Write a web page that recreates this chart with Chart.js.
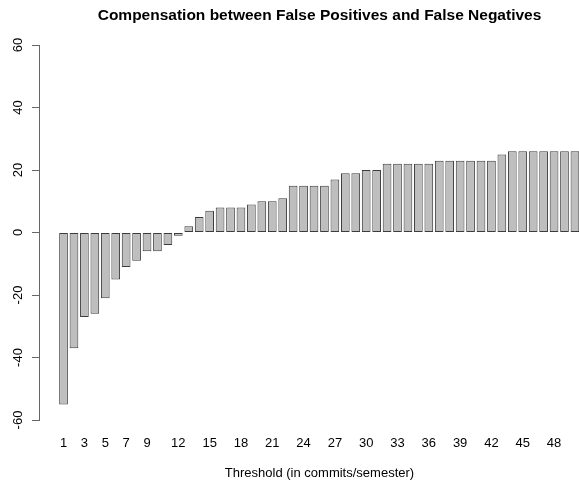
<!DOCTYPE html>
<html>
<head>
<meta charset="utf-8">
<script src="https://cdn.jsdelivr.net/npm/chart.js@4/dist/chart.umd.min.js"></script>
<style>
  html, body { margin: 0; padding: 0; background: #fff; }
  #wrap { width: 579px; height: 485px; }
</style>
</head>
<body>
<div id="wrap"><canvas id="chart" width="579" height="485"></canvas></div>
<script>
const thresholds = [1, 2, 3, 4, 5, 6, 7, 8, 9, 10,
    11, 12, 13, 14, 15, 16, 17, 18, 19, 20,
    21, 22, 23, 24, 25, 26, 27, 28, 29, 30,
    31, 32, 33, 34, 35, 36, 37, 38, 39, 40,
    41, 42, 43, 44, 45, 46, 47, 48, 49, 50];
const compensation = [-55, -37, -27, -26, -21, -15, -11, -9, -6, -6,
    -4, -1, 2, 5, 7, 8, 8, 8, 9, 10,
    10, 11, 15, 15, 15, 15, 17, 19, 19, 20,
    20, 22, 22, 22, 22, 22, 23, 23, 23, 23,
    23, 23, 25, 26, 26, 26, 26, 26, 26, 26];
const xTickLabels = [1, 3, 5, 7, 9, 12, 15, 18, 21, 24, 27, 30, 33, 36, 39, 42, 45, 48];
const yTickLabels = [-60, -40, -20, 0, 20, 40, 60];

const mainTitle = "Compensation between False Positives and False Negatives";
const xTitle = "Threshold (in commits/semester)";

Chart.defaults.font.family = "'Liberation Sans', Arial, sans-serif";
Chart.defaults.color = "#000";

// R style titles: centred over the plot region, not the canvas
const rTitles = {
    id: "rTitles",
    afterDraw(chart) {
        const ctx = chart.ctx;
        ctx.save();
        ctx.fillStyle = "#000";
        ctx.textAlign = "center";
        ctx.textBaseline = "middle";
        ctx.font = "bold 15.5px 'Liberation Sans', Arial, sans-serif";
        ctx.fillText(mainTitle, 319.5, 16);
        ctx.font = "13px 'Liberation Sans', Arial, sans-serif";
        ctx.fillText(xTitle, 319.5, 473);
        ctx.restore();
    }
};

new Chart(document.getElementById("chart"), {
    type: "bar",
    data: {
        datasets: [{
            data: thresholds.map((t, i) => ({ x: t, y: compensation[i] })),
            backgroundColor: "#bebebe",
            borderColor: "#3c3c3c",
            borderWidth: 1,
            borderSkipped: false,
            barPercentage: 0.833,
            categoryPercentage: 1.0
        }]
    },
    options: {
        responsive: false,
        animation: false,
        layout: {
            padding: { top: 45, left: 0, right: 0, bottom: 0 }
        },
        plugins: {
            legend: { display: false },
            tooltip: { enabled: false }
        },
        scales: {
            x: {
                type: "linear",
                offset: false,
                min: -1.35,
                max: 50.39,
                grid: { display: false },
                border: { display: false },
                afterBuildTicks: (scale) => {
                    scale.ticks = xTickLabels.map(v => ({ value: v }));
                },
                afterFit: (scale) => { scale.height = 65; },
                ticks: {
                    autoSkip: false,
                    maxRotation: 0,
                    padding: 8,
                    font: { size: 13 },
                    color: "#000"
                }
            },
            y: {
                min: -60,
                max: 60,
                afterBuildTicks: (scale) => {
                    scale.ticks = yTickLabels.map(v => ({ value: v }));
                },
                afterFit: (scale) => { scale.width = 39; },
                grid: {
                    drawOnChartArea: false,
                    tickLength: 7,
                    color: "#666"
                },
                border: { display: true, color: "#666" },
                ticks: {
                    minRotation: 90,
                    maxRotation: 90,
                    crossAlign: "center",
                    padding: 4,
                    font: { size: 13 },
                    color: "#000"
                }
            }
        }
    },
    plugins: [rTitles]
});
</script>
</body>
</html>
